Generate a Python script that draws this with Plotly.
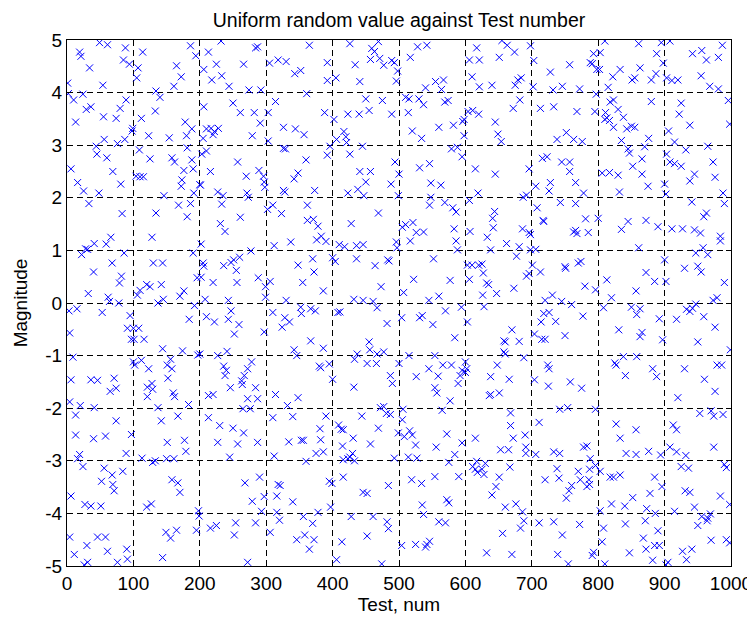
import plotly.graph_objects as go

# (test number, magnitude) pairs, grouped by 100-test strips
strip_000 = [(49,4.95),(61,4.91),(88,4.85),(19,4.77),(21,4.69),(34,4.47),(85,4.62),(94,4.54),(1,4.18),(54,4.14),(2,3.98),(10,3.86),(24,3.97),(89,3.86),(80,3.70),(29,3.68),(36,3.73),(55,3.54),(74,3.51),(13,3.44),(99,3.32),(98,3.27),(56,3.11),(76,3.03),(87,3.11),(44,2.98),(45,2.83),(60,2.76),(6,2.55),(69,2.50),(16,2.29),(81,2.26),(25,2.13),(48,2.09),(33,1.89),(83,1.70),(66,1.25),(59,1.12),(41,1.13),(28,1.03),(31,1.02),(22,0.92),(86,0.95),(68,0.76),(40,0.59),(82,0.51),(79,0.38),(32,0.18),(62,0.11),(64,0.03),(78,0.00),(3,-0.15),(15,-0.11),(53,-0.18),(95,-0.24),(91,-0.48),(100,-0.48),(97,-0.69),(4,-0.57),(9,-1.03),(100,-1.12),(6,-1.46),(36,-1.46),(46,-1.47),(71,-1.43),(74,-1.62),(65,-1.68),(4,-1.88),(20,-1.95),(41,-1.99),(13,-2.13),(74,-2.24),(13,-2.51),(40,-2.58),(58,-2.53),(97,-2.50),(89,-2.86),(19,-2.88),(16,-2.96),(24,-3.11),(56,-3.14),(68,-3.27),(52,-3.39),(69,-3.45),(71,-3.57),(84,-3.20),(6,-3.67),(27,-3.83),(36,-3.86),(51,-3.86),(4,-4.45),(46,-4.45),(58,-4.45),(30,-4.61),(61,-4.72),(11,-4.78),(90,-4.68),(91,-4.87),(31,-4.93),(26,-4.98),(76,-4.93)]

strip_100 = [(114,4.77),(186,4.89),(194,4.70),(107,4.47),(105,4.28),(165,4.51),(172,4.30),(161,4.12),(134,4.03),(140,3.91),(133,3.65),(112,3.51),(123,3.18),(154,3.14),(178,3.44),(188,3.31),(180,3.18),(181,2.95),(109,2.91),(125,2.74),(158,2.76),(162,2.68),(188,2.72),(176,2.52),(190,2.55),(173,2.34),(172,2.22),(104,2.41),(110,2.40),(115,2.40),(200,2.25),(146,2.04),(191,2.09),(168,1.86),(186,1.89),(134,1.71),(181,1.64),(128,1.25),(190,0.95),(130,0.76),(144,0.76),(196,0.48),(120,0.35),(125,0.31),(110,0.24),(106,0.15),(142,0.35),(137,0.00),(145,0.07),(170,0.13),(176,0.23),(192,-0.05),(184,-0.31),(108,-0.48),(116,-0.69),(101,-0.69),(144,-0.87),(174,-0.91),(197,-0.99),(102,-1.18),(112,-1.09),(123,-1.25),(151,-1.18),(156,-1.07),(158,-1.25),(152,-1.43),(128,-1.53),(121,-1.60),(121,-1.78),(129,-1.64),(160,-1.71),(162,-1.78),(137,-1.99),(183,-1.93),(142,-2.24),(167,-2.15),(151,-2.65),(177,-2.61),(179,-2.82),(113,-2.95),(129,-3.03),(133,-3.00),(150,-2.96),(161,-2.96),(158,-3.36),(167,-3.42),(170,-3.60),(127,-3.82),(120,-3.88),(198,-3.95),(199,-4.05),(149,-4.36),(156,-4.47),(165,-4.32),(195,-4.32),(144,-4.84)]

strip_200 = [(232,4.98),(284,4.85),(287,4.87),(213,4.77),(225,4.54),(206,4.44),(266,4.54),(233,4.32),(218,4.24),(244,4.12),(274,4.05),(292,4.05),(206,3.73),(250,3.80),(261,3.62),(282,3.62),(291,3.42),(210,3.31),(217,3.32),(228,3.32),(220,3.20),(222,3.26),(205,3.13),(210,2.89),(203,2.83),(279,3.18),(257,2.68),(216,2.50),(270,2.41),(289,2.52),(296,2.41),(297,2.30),(298,2.20),(201,2.24),(227,2.11),(235,2.04),(271,2.09),(273,2.01),(233,1.88),(261,1.63),(231,1.51),(238,1.36),(202,1.12),(277,0.99),(205,0.76),(206,0.70),(202,0.49),(236,0.71),(247,0.77),(251,0.82),(260,0.87),(255,0.62),(220,0.39),(256,0.39),(288,0.48),(299,0.31),(299,0.11),(208,0.07),(243,0.05),(247,-0.15),(210,-0.26),(222,-0.36),(243,-0.31),(259,-0.41),(252,-0.59),(297,-0.55),(200,-0.97),(227,-1.00),(241,-0.92),(236,-1.20),(240,-1.28),(238,-1.38),(278,-1.12),(272,-1.25),(267,-1.38),(263,-1.48),(264,-1.55),(246,-1.61),(284,-1.61),(272,-1.82),(287,-1.82),(213,-1.76),(220,-1.74),(265,-2.01),(276,-2.01),(213,-2.18),(230,-2.33),(250,-2.38),(266,-2.47),(227,-2.65),(257,-2.68),(287,-2.65),(245,-2.93),(268,-3.42),(290,-3.31),(279,-3.77),(297,-3.68),(293,-3.96),(216,-4.28),(225,-4.23),(254,-4.18),(252,-4.41),(284,-4.18),(272,-4.93)]

strip_300 = [(365,4.90),(305,4.56),(318,4.62),(330,4.59),(343,4.36),(352,4.42),(392,4.57),(392,4.23),(361,3.98),(314,3.83),(303,3.62),(388,3.62),(326,3.34),(344,3.31),(357,3.20),(303,3.08),(396,2.98),(326,2.94),(329,2.93),(360,2.72),(392,2.81),(348,2.47),(342,2.36),(326,2.14),(328,2.11),(373,2.14),(302,1.78),(310,1.86),(323,1.70),(362,1.86),(362,1.57),(371,1.59),(378,1.46),(383,1.27),(376,1.20),(390,1.17),(312,1.09),(337,1.16),(400,0.86),(370,0.84),(348,0.72),(372,0.59),(355,0.39),(386,0.23),(306,0.41),(330,0.05),(352,-0.08),(353,-0.20),(367,-0.11),(374,-0.15),(310,-0.18),(328,-0.28),(335,-0.36),(324,-0.46),(367,-0.72),(342,-0.89),(346,-1.00),(386,-0.86),(380,-1.20),(382,-1.23),(395,-1.16),(400,-1.45),(314,-1.74),(348,-1.80),(332,-1.95),(310,-2.18),(340,-2.16),(390,-2.15),(381,-2.39),(382,-2.60),(334,-2.64),(353,-2.61),(356,-2.61),(375,-2.86),(386,-2.83),(312,-2.91),(360,-3.01),(395,-3.39),(399,-3.43),(318,-3.45),(321,-3.47),(316,-3.67),(340,-3.78),(397,-3.88),(378,-3.98),(316,-3.98),(320,-4.13),(356,-4.06),(370,-4.19),(306,-4.36),(346,-4.50),(358,-4.41),(372,-4.50),(365,-4.68)]

strip_400 = [(426,4.93),(469,4.97),(459,4.84),(463,4.78),(457,4.63),(471,4.65),(477,4.52),(489,4.61),(493,4.57),(434,4.53),(405,4.28),(441,4.21),(496,4.22),(498,4.41),(450,3.88),(475,3.85),(402,3.49),(423,3.59),(440,3.59),(455,3.66),(489,3.59),(406,3.11),(417,3.26),(420,3.16),(421,3.05),(426,2.83),(445,2.98),(494,2.68),(441,2.50),(457,2.50),(450,2.30),(500,2.45),(488,2.26),(423,2.09),(438,2.16),(447,2.04),(499,2.04),(469,1.71),(428,1.51),(410,1.11),(418,1.07),(436,1.09),(446,1.11),(496,1.16),(497,1.05),(404,0.79),(436,0.84),(464,0.71),(483,0.82),(485,0.80),(473,0.31),(432,0.07),(446,0.05),(461,0.03),(467,-0.09),(408,-0.18),(411,-0.17),(482,-0.39),(455,-0.74),(456,-0.89),(467,-0.97),(477,-0.93),(437,-0.97),(433,-1.07),(452,-1.15),(466,-1.15),(500,-1.15),(432,-1.60),(487,-1.38),(490,-1.53),(472,-1.99),(477,-1.97),(481,-2.10),(487,-2.12),(444,-2.15),(469,-2.38),(499,-2.47),(409,-2.32),(413,-2.40),(416,-2.41),(431,-2.57),(457,-2.68),(415,-2.72),(430,-2.86),(423,-2.96),(426,-2.93),(416,-2.98),(433,-3.00),(493,-2.95),(416,-3.31),(446,-3.60),(452,-3.62),(484,-3.47),(428,-4.06),(461,-4.06),(482,-4.16),(484,-4.29),(414,-4.54),(452,-4.43),(406,-4.88),(474,-4.96)]

strip_500 = [(528,4.87),(542,4.90),(517,4.67),(555,4.21),(567,4.24),(564,4.06),(540,4.09),(510,3.91),(515,3.88),(530,3.88),(537,3.77),(569,3.82),(574,3.85),(514,3.62),(596,3.45),(598,3.49),(520,3.27),(534,3.13),(560,3.34),(582,3.38),(598,3.18),(579,2.93),(588,2.96),(595,2.78),(531,2.57),(546,2.65),(548,2.28),(563,2.24),(548,2.01),(546,1.86),(569,1.91),(581,1.81),(586,1.73),(505,1.44),(510,1.49),(521,1.53),(517,1.18),(526,1.34),(537,1.35),(583,1.41),(586,1.18),(588,1.01),(552,0.84),(522,0.45),(577,0.43),(507,0.20),(545,0.05),(560,0.13),(594,-0.08),(504,-0.28),(531,-0.28),(535,-0.24),(551,-0.41),(570,-0.15),(584,-0.66),(515,-1.00),(554,-1.00),(545,-1.25),(566,-1.18),(579,-1.18),(559,-1.39),(526,-1.40),(592,-1.38),(595,-1.28),(589,-1.53),(600,-1.12),(554,-1.61),(557,-1.71),(577,-1.86),(506,-2.02),(505,-2.22),(565,-2.04),(508,-2.54),(516,-2.43),(520,-2.51),(525,-2.70),(572,-2.49),(595,-2.66),(556,-2.74),(584,-2.88),(514,-2.93),(527,-2.95),(575,-3.03),(519,-3.36),(534,-3.43),(554,-3.30),(590,-3.30),(572,-3.74),(575,-3.80),(535,-3.84),(537,-4.02),(560,-4.16),(570,-4.18),(504,-4.61),(525,-4.59),(540,-4.64),(542,-4.59),(546,-4.53)]

strip_600 = [(655,4.99),(617,4.85),(663,4.90),(674,4.77),(698,4.89),(606,4.62),(621,4.62),(651,4.67),(610,4.30),(621,4.11),(640,4.14),(675,4.14),(679,4.24),(684,4.28),(682,3.86),(672,3.70),(604,3.64),(611,3.66),(620,3.59),(645,3.44),(649,3.21),(654,3.07),(615,2.55),(645,2.45),(696,2.55),(619,2.09),(606,1.95),(687,2.01),(692,2.05),(644,1.74),(641,1.61),(642,1.43),(607,1.36),(633,1.25),(686,1.41),(696,1.34),(698,1.30),(662,1.13),(638,1.01),(681,1.07),(677,0.89),(698,1.01),(603,0.72),(610,0.72),(620,0.72),(625,0.74),(627,0.57),(606,0.45),(632,0.38),(635,0.35),(647,0.18),(626,0.15),(628,-0.07),(673,0.28),(692,0.51),(696,0.56),(603,-0.36),(670,-0.51),(658,-0.72),(660,-0.74),(681,-0.73),(658,-0.93),(660,-0.97),(688,-1.04),(648,-1.18),(602,-1.25),(600,-1.32),(638,-1.40),(666,-1.45),(636,-1.76),(638,-1.74),(651,-1.71),(668,-2.09),(668,-2.33),(672,-2.57),(690,-2.51),(615,-2.57),(653,-2.79),(665,-2.79),(691,-2.74),(691,-2.86),(617,-3.01),(630,-3.05),(611,-3.11),(615,-3.16),(618,-3.22),(625,-3.16),(628,-3.26),(667,-3.12),(651,-3.31),(646,-3.49),(640,-3.65),(660,-3.88),(676,-3.82),(686,-3.97),(688,-4.14),(683,-4.28),(656,-4.38),(632,-4.75),(670,-4.78)]

strip_700 = [(703,4.61),(728,4.39),(757,4.53),(788,4.57),(793,4.74),(791,4.55),(798,4.44),(702,4.11),(732,4.05),(746,4.12),(772,4.07),(797,3.97),(713,3.70),(733,3.73),(768,3.64),(795,3.64),(738,3.11),(752,3.24),(763,3.11),(776,3.07),(716,2.75),(723,2.78),(745,2.68),(757,2.68),(757,2.50),(706,2.22),(728,2.29),(726,2.13),(766,2.29),(778,2.09),(743,1.91),(766,1.89),(708,1.81),(717,1.57),(718,1.55),(781,1.60),(800,1.61),(766,1.38),(768,1.32),(763,1.35),(785,1.34),(706,1.02),(701,0.72),(713,0.59),(750,0.69),(751,0.66),(770,0.76),(774,0.79),(780,0.32),(796,0.25),(720,0.05),(731,0.15),(745,0.03),(760,-0.03),(718,-0.20),(726,-0.18),(714,-0.36),(736,-0.35),(777,-0.25),(704,-0.59),(715,-0.69),(720,-0.69),(750,-0.62),(724,-1.18),(726,-1.25),(704,-1.46),(725,-1.58),(758,-1.50),(775,-1.62),(742,-2.02),(754,-1.99),(796,-2.02),(711,-2.27),(706,-2.88),(733,-2.83),(742,-2.86),(778,-2.74),(783,-2.72),(788,-2.96),(796,-3.09),(720,-3.36),(738,-3.15),(741,-3.33),(770,-3.20),(787,-3.16),(773,-3.36),(786,-3.36),(783,-3.49),(787,-3.45),(760,-3.47),(756,-3.57),(752,-3.71),(711,-4.18),(733,-4.16),(772,-4.21),(746,-4.41),(739,-4.78),(791,-4.80),(793,-4.74),(755,-4.96)]

strip_800 = [(810,4.98),(861,4.93),(895,4.95),(803,4.76),(888,4.74),(898,4.56),(802,4.44),(833,4.44),(822,4.30),(863,4.47),(851,4.24),(855,4.28),(880,4.24),(887,4.36),(815,4.10),(880,3.83),(818,3.82),(823,3.86),(811,3.62),(813,3.52),(810,3.49),(817,3.47),(830,3.68),(838,3.53),(823,3.34),(843,3.31),(850,3.36),(855,3.34),(835,3.09),(876,3.13),(845,2.93),(847,2.85),(870,2.97),(866,2.74),(852,2.60),(806,2.47),(817,2.48),(830,2.43),(866,2.45),(875,2.22),(900,2.26),(832,2.11),(835,1.40),(845,1.55),(872,1.57),(890,1.45),(861,1.05),(900,0.82),(813,0.44),(872,0.58),(885,0.41),(857,0.23),(820,0.10),(808,-0.09),(850,-0.08),(863,-0.11),(858,-0.22),(892,-0.30),(831,-0.51),(866,-0.56),(863,-0.64),(897,-0.70),(838,-1.02),(858,-1.02),(825,-1.14),(827,-1.18),(882,-1.25),(888,-1.40),(841,-1.38),(827,-2.30),(833,-2.57),(857,-2.41),(842,-2.86),(857,-2.88),(876,-2.82),(894,-2.89),(803,-3.20),(818,-3.31),(823,-3.31),(833,-3.27),(885,-3.31),(896,-3.49),(878,-3.62),(852,-3.70),(820,-3.82),(840,-3.86),(873,-3.91),(886,-4.00),(803,-3.95),(808,-4.28),(841,-4.20),(871,-4.14),(890,-4.33),(806,-4.54),(868,-4.47),(872,-4.68),(885,-4.61),(892,-4.61),(847,-4.75),(882,-4.89),(810,-4.96)]

strip_900 = [(908,4.98),(942,4.74),(956,4.80),(963,4.62),(981,4.67),(987,4.90),(903,4.28),(911,4.23),(920,4.24),(955,4.32),(968,4.12),(981,4.07),(996,3.85),(925,3.80),(922,3.59),(938,3.38),(998,3.40),(906,3.27),(915,3.06),(932,2.91),(965,2.98),(903,2.83),(908,2.68),(915,2.65),(925,2.60),(973,2.68),(945,2.45),(938,2.32),(976,2.39),(902,2.07),(988,2.09),(990,1.89),(941,1.92),(959,1.64),(963,1.71),(911,1.41),(927,1.41),(945,1.39),(954,1.33),(984,1.27),(984,1.18),(958,1.05),(947,0.95),(965,0.92),(950,0.70),(955,0.59),(930,0.66),(902,0.41),(990,0.39),(973,0.05),(979,0.10),(933,-0.12),(938,-0.16),(942,-0.10),(947,-0.02),(918,-0.31),(959,-0.26),(976,-0.46),(950,-0.74),(999,-0.89),(930,-1.25),(979,-1.18),(986,-1.18),(960,-1.45),(976,-1.68),(920,-1.80),(953,-2.10),(970,-2.05),(974,-2.15),(988,-2.12),(913,-2.32),(918,-2.41),(908,-2.74),(918,-2.83),(932,-2.90),(974,-2.74),(925,-3.11),(936,-3.14),(990,-3.07),(993,-3.13),(931,-3.57),(938,-3.60),(984,-3.67),(998,-3.83),(915,-3.96),(945,-3.88),(956,-4.06),(965,-4.09),(969,-4.01),(964,-4.14),(950,-4.23),(970,-4.51),(993,-4.50),(998,-4.56),(927,-4.72),(941,-4.68),(933,-4.88),(905,-4.93),(902,-4.98)]

x_ticks = [0, 100, 200, 300, 400, 500, 600, 700, 800, 900, 1000]
y_ticks = [-5, -4, -3, -2, -1, 0, 1, 2, 3, 4, 5]
y_tick_labels = ["-5", "-4", "-3", "-2", "-1", "0", "1", "2", "3", "4", "5"]

strips = [strip_000, strip_100, strip_200, strip_300, strip_400,
          strip_500, strip_600, strip_700, strip_800, strip_900]
tests = [p[0] for s in strips for p in s]
mags = [p[1] for s in strips for p in s]

FONT = "Arial, Liberation Sans, Helvetica, sans-serif"
TXT = dict(family=FONT, size=19, color="black")

# the page body has an 8px margin, so the figure is sized/offset to compensate
W, H = 747, 611

fig = go.Figure(go.Scatter(
    x=tests, y=mags, mode="markers",
    marker=dict(symbol="x-thin", size=7, color="#0000ff",
                line=dict(width=1, color="#0000ff")),
    hoverinfo="x+y",
))

axis_common = dict(
    showline=True, linecolor="black", linewidth=1, mirror="allticks",
    ticks="inside", ticklen=5, tickcolor="black",
    showgrid=True, gridcolor="black", gridwidth=1, griddash="6px,4px",
    zeroline=False, tickfont=TXT, automargin=False,
)

fig.update_layout(
    width=W, height=H,
    paper_bgcolor="white", plot_bgcolor="white",
    margin=dict(l=59, r=24, t=32, b=53),
    showlegend=False,
    title=dict(text="Uniform random value against Test number",
               x=0.5, xref="paper", xanchor="center",
               y=1 - 12 / H, yref="container", yanchor="middle",
               font=dict(family=FONT, size=19.5, color="black")),
    xaxis=dict(range=[0, 1000], tickvals=x_ticks,
               title=dict(text="Test, num", standoff=4, font=TXT),
               **axis_common),
    yaxis=dict(range=[-5, 5], tickvals=y_ticks, ticktext=y_tick_labels,
               title=dict(text="Magnitude", standoff=12, font=TXT),
               **axis_common),
)

fig.write_html("out.html")
